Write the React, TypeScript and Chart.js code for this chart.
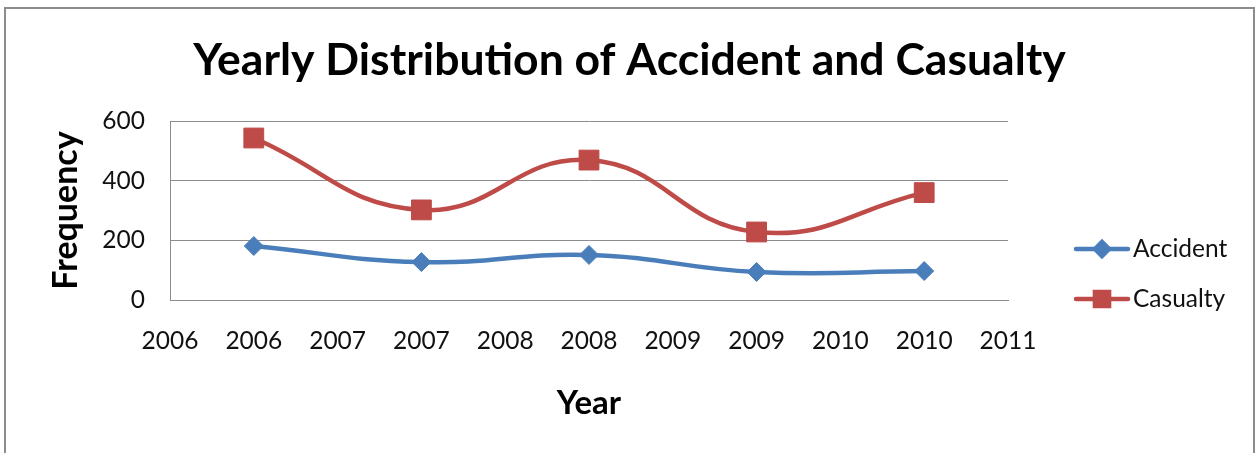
import React, { useEffect, useRef } from 'react';
import { Chart, registerables } from 'chart.js';
import { drawPoint } from 'chart.js/helpers';

Chart.register(...registerables);

const years = [2006, 2007, 2008, 2009, 2010];
const accident = [181, 127, 151, 94, 97];
const casualty = [543, 302, 469, 228, 360];
const xTickLabels = ['2006', '2006', '2007', '2007', '2008', '2008', '2009', '2009', '2010', '2010', '2011'];
const seriesNames = ['Accident', 'Casualty'];

const FONT = 'Lato, "Open Sans", sans-serif';

const borderPlugin = {
  id: 'outerBorder',
  beforeDraw(chart: any) {
    const ctx = chart.ctx;
    ctx.save();
    ctx.strokeStyle = '#8c8c8c';
    ctx.lineWidth = 2;
    ctx.strokeRect(5, 8, 1249, 500);
    ctx.restore();
  },
};

const legendPlugin = {
  id: 'excelLegend',
  afterDraw(chart: any) {
    const ctx = chart.ctx;
    chart.data.datasets.forEach((ds: any, i: number) => {
      const y = 249 + i * 50;
      ctx.save();
      ctx.strokeStyle = ds.borderColor;
      ctx.lineWidth = ds.borderWidth;
      ctx.lineCap = 'round';
      ctx.beginPath();
      ctx.moveTo(1076, y);
      ctx.lineTo(1128, y);
      ctx.stroke();
      ctx.fillStyle = ds.pointBackgroundColor;
      ctx.strokeStyle = ds.pointBorderColor;
      drawPoint(ctx, { pointStyle: ds.pointStyle, rotation: 0, radius: ds.pointStyle === 'rect' ? 10 : 7, borderWidth: 1 }, 1102, y);
      ctx.fillStyle = '#111';
      ctx.font = `24.5px ${FONT}`;
      ctx.textBaseline = 'middle';
      ctx.textAlign = 'left';
      ctx.fillText(ds.label, 1133, y);
      ctx.restore();
    });
  },
};

export default function App() {
  const ref = useRef<HTMLCanvasElement | null>(null);
  useEffect(() => {
    if (!ref.current) return;
    const chart = new Chart(ref.current, {
      type: 'scatter',
      data: {
        datasets: [
          {
            label: seriesNames[0],
            data: years.map((y, i) => ({ x: y, y: accident[i] })),
            showLine: true,
            borderColor: '#4a7ebb',
            backgroundColor: '#4a7ebb',
            pointBackgroundColor: '#4a7ebb',
            pointBorderColor: '#4a7ebb',
            borderWidth: 4.5,
            tension: 0.45,
            pointStyle: 'rectRot',
            pointRadius: 9.5,
            pointBorderWidth: 1,
          },
          {
            label: seriesNames[1],
            data: years.map((y, i) => ({ x: y, y: casualty[i] })),
            showLine: true,
            borderColor: '#be4b48',
            backgroundColor: '#be4b48',
            pointBackgroundColor: '#be4b48',
            pointBorderColor: '#be4b48',
            borderWidth: 4.5,
            tension: 0.45,
            pointStyle: 'rect',
            pointRadius: 14,
            pointBorderWidth: 1,
          },
        ],
      },
      options: {
        responsive: false,
        animation: false,
        devicePixelRatio: 1,
        layout: { padding: { left: 0, right: 0, top: 0, bottom: 0 } },
        plugins: {
          legend: { display: false },
          tooltip: { enabled: false },
          title: {
            display: true,
            text: 'Yearly Distribution of Accident and Casualty',
            color: '#000',
            font: { family: FONT, size: 44.5, weight: 'bold', lineHeight: 1.2 },
            padding: { top: 34.3, bottom: 33.3 },
          },
        },
        scales: {
          x: {
            type: 'linear',
            min: 2005.5,
            max: 2010.5,
            afterFit: (s: any) => { s.height = 153; },
            ticks: {
              stepSize: 0.5,
              padding: 26.3,
              color: '#111',
              font: { family: FONT, size: 24.5 },
              callback: (_v: any, i: number) => xTickLabels[i],
              maxRotation: 0,
              autoSkip: false,
            },
            grid: { display: false, drawTicks: false },
            border: { display: true, color: '#8c8c8c', width: 1 },
            title: {
              display: true,
              text: 'Year',
              color: '#000',
              font: { family: FONT, size: 33, weight: 'bold', lineHeight: 1.2 },
              padding: { top: 0, bottom: 30.2 },
            },
          },
          y: {
            min: 0,
            max: 600,
            afterFit: (s: any) => { s.width = 170; },
            ticks: {
              stepSize: 200,
              padding: 25,
              color: '#111',
              font: { family: FONT, size: 24.5 },
            },
            grid: { color: '#8c8c8c', lineWidth: 1, drawTicks: false },
            border: { display: true, color: '#8c8c8c', width: 1 },
            title: {
              display: true,
              text: 'Frequency',
              color: '#000',
              font: { family: FONT, size: 34, weight: 'bold', lineHeight: 1.2 },
              padding: { top: 45.6, bottom: 0 },
            },
          },
          legendSpace: {
            type: 'linear',
            position: 'right',
            display: true,
            afterFit: (s: any) => { s.width = 251; },
            ticks: { display: false },
            grid: { display: false, drawTicks: false },
            border: { display: false },
          },
        },
      },
      plugins: [borderPlugin, legendPlugin],
    });
    return () => chart.destroy();
  }, []);
  return (
    <div style={{ position: 'fixed', left: 0, top: 0, width: 1259, height: 453, background: '#fff' }}>
      <canvas ref={ref} width={1259} height={453} />
    </div>
  );
}
